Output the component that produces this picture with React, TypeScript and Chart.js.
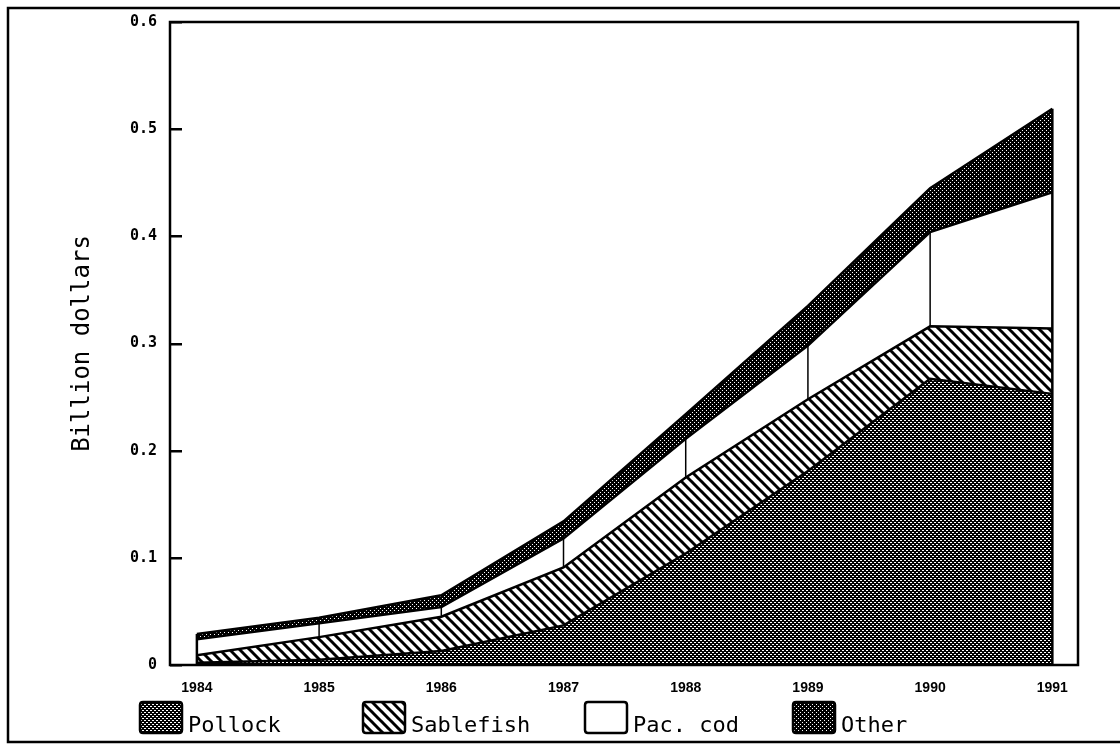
import React, { useEffect, useRef } from "react";
import { Chart, registerables } from "chart.js";

Chart.register(...registerables);

const years = [1984, 1985, 1986, 1987, 1988, 1989, 1990, 1991];
const pollock = [0.002, 0.005, 0.013, 0.037, 0.104, 0.181, 0.267, 0.253];
const sablefish = [0.007, 0.021, 0.032, 0.054, 0.071, 0.067, 0.049, 0.061];
const pacCod = [0.015, 0.013, 0.009, 0.027, 0.036, 0.05, 0.088, 0.127];
const other = [0.005, 0.005, 0.011, 0.016, 0.023, 0.037, 0.041, 0.078];
const seriesNames = ["Pollock", "Sablefish", "Pac. cod", "Other"];
const yTickValues = [0, 0.1, 0.2, 0.3, 0.4, 0.5, 0.6];
const yAxisTitle = "Billion dollars";

function makeStipple(dense: boolean): CanvasPattern | string {
  const c = document.createElement("canvas");
  c.width = 4;
  c.height = 4;
  const g = c.getContext("2d");
  if (!g) return "#333";
  g.fillStyle = "#000";
  g.fillRect(0, 0, 4, 4);
  g.fillStyle = "#fff";
  if (dense) {
    g.fillRect(0, 0, 2, 1);
    g.fillRect(2, 2, 2, 1);
  } else {
    g.fillRect(0, 0, 1, 1);
    g.fillRect(2, 2, 1, 1);
  }
  return g.createPattern(c, "repeat") || "#333";
}

function makeHatch(): CanvasPattern | string {
  const s = 10;
  const c = document.createElement("canvas");
  c.width = s;
  c.height = s;
  const g = c.getContext("2d");
  if (!g) return "#888";
  g.fillStyle = "#fff";
  g.fillRect(0, 0, s, s);
  g.strokeStyle = "#000";
  g.lineWidth = 3;
  for (const x0 of [-s, 0, s]) {
    g.beginPath();
    g.moveTo(x0 - 1, -1);
    g.lineTo(x0 + s + 1, s + 1);
    g.stroke();
  }
  return g.createPattern(c, "repeat") || "#888";
}

export default function App() {
  const ref = useRef<HTMLCanvasElement>(null);

  useEffect(() => {
    if (!ref.current) return;
    const fills = [makeStipple(true), makeHatch(), "#ffffff", makeStipple(false)];
    const series = [pollock, sablefish, pacCod, other];

    const decorPlugin = {
      id: "decor",
      afterDraw(chart: any) {
        const ctx = chart.ctx;
        const xs = chart.scales.x;
        const ys = chart.scales.y;
        const area = chart.chartArea;
        ctx.save();
        ctx.strokeStyle = "#000";
        ctx.lineCap = "butt";
        years.forEach((yr, i) => {
          const base = pollock[i] + sablefish[i];
          const codTop = base + pacCod[i];
          const total = codTop + other[i];
          const px = xs.getPixelForValue(yr);
          ctx.beginPath();
          if (i === 0 || i === years.length - 1) {
            ctx.lineWidth = 2.5;
            ctx.moveTo(px, ys.getPixelForValue(0));
            ctx.lineTo(px, ys.getPixelForValue(total));
          } else {
            ctx.lineWidth = 1.5;
            ctx.moveTo(px, ys.getPixelForValue(base));
            ctx.lineTo(px, ys.getPixelForValue(codTop));
          }
          ctx.stroke();
        });
        ctx.lineWidth = 2.5;
        ctx.strokeRect(area.left, area.top, area.right - area.left, area.bottom - area.top);
        ctx.fillStyle = "#000";
        yTickValues.forEach((v) => {
          const py = Math.round(ys.getPixelForValue(v));
          ctx.fillRect(area.left, py - 1, 12, 2.5);
        });

        ctx.lineWidth = 2.5;
        ctx.beginPath();
        ctx.moveTo(1125, 8);
        ctx.lineTo(8, 8);
        ctx.lineTo(8, 742);
        ctx.lineTo(1125, 742);
        ctx.stroke();

        const lx = [140, 363, 585, 793];
        const boxY = 702;
        const boxW = 42;
        const boxH = 31;
        ctx.font = '22px "DejaVu Sans Mono"';
        ctx.textBaseline = "alphabetic";
        ctx.textAlign = "left";
        seriesNames.forEach((name, i) => {
          const x = lx[i];
          ctx.beginPath();
          const r = 3;
          ctx.moveTo(x + r, boxY);
          ctx.lineTo(x + boxW - r, boxY);
          ctx.quadraticCurveTo(x + boxW, boxY, x + boxW, boxY + r);
          ctx.lineTo(x + boxW, boxY + boxH - r);
          ctx.quadraticCurveTo(x + boxW, boxY + boxH, x + boxW - r, boxY + boxH);
          ctx.lineTo(x + r, boxY + boxH);
          ctx.quadraticCurveTo(x, boxY + boxH, x, boxY + boxH - r);
          ctx.lineTo(x, boxY + r);
          ctx.quadraticCurveTo(x, boxY, x + r, boxY);
          ctx.closePath();
          ctx.fillStyle = fills[i] as any;
          ctx.fill();
          ctx.lineWidth = 2.5;
          ctx.strokeStyle = "#000";
          ctx.stroke();
          ctx.fillStyle = "#000";
          ctx.fillText(name, x + boxW + 6, 732);
        });
        ctx.restore();
      },
    };

    const chart = new Chart(ref.current, {
      type: "line",
      data: {
        datasets: series.map((vals, i) => ({
          label: seriesNames[i],
          data: years.map((yr, j) => ({ x: yr, y: vals[j] })),
          fill: i === 0 ? "origin" : "-1",
          backgroundColor: fills[i] as any,
          borderColor: "#000",
          borderWidth: 2.5,
          pointRadius: 0,
          tension: 0,
        })),
      },
      options: {
        animation: false,
        responsive: false,
        devicePixelRatio: 1,
        layout: { padding: { left: 0, top: 21, right: 42, bottom: 0 } },
        plugins: {
          legend: { display: false },
          tooltip: { enabled: false },
        },
        scales: {
          x: {
            type: "linear",
            min: 1983.78,
            max: 1991.21,
            grid: { display: false, drawTicks: false },
            border: { display: false },
            ticks: {
              stepSize: 1,
              includeBounds: false,
              autoSkip: false,
              maxRotation: 0,
              padding: 15,
              color: "#000",
              font: { family: '"Liberation Sans", Arial', size: 14, weight: "bold" },
              callback: (v: any) => (Number.isInteger(v) ? String(v) : ""),
            },
            afterFit: (s: any) => {
              s.height = 79;
            },
          },
          y: {
            stacked: true,
            min: 0,
            max: 0.6,
            grid: { display: false, drawTicks: false },
            border: { display: false },
            ticks: {
              stepSize: 0.1,
              padding: 13,
              color: "#000",
              font: { family: '"DejaVu Sans Mono"', size: 15, weight: "bold" },
              callback: (v: any) => (Number(v) === 0 ? "0" : Number(v).toFixed(1)),
            },
            title: {
              display: true,
              text: yAxisTitle,
              color: "#000",
              font: { family: '"DejaVu Sans Mono"', size: 24, weight: "normal" },
              padding: { top: 68, bottom: 0 },
            },
            afterFit: (s: any) => {
              s.width = 170;
            },
          },
        },
      },
      plugins: [decorPlugin],
    } as any);
    return () => chart.destroy();
  }, []);

  return (
    <div style={{ position: "absolute", left: 0, top: 0, width: 1120, height: 744, background: "#fff" }}>
      <canvas ref={ref} width={1120} height={744} />
    </div>
  );
}
